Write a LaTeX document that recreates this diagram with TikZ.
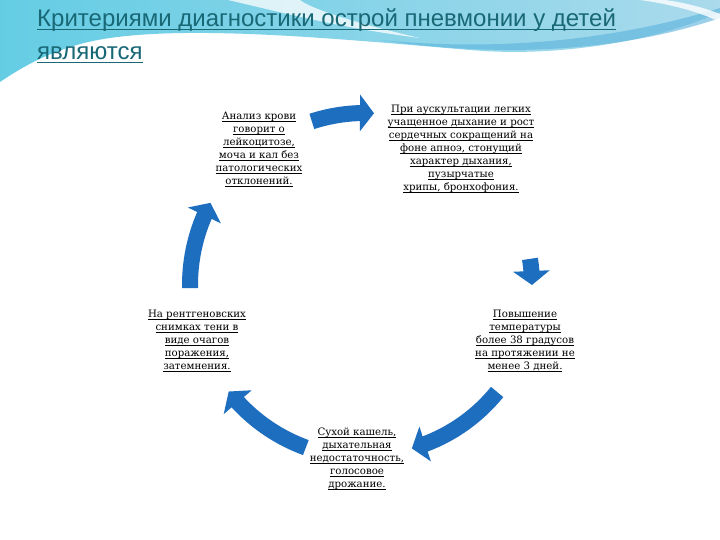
\documentclass[tikz,border=0pt]{standalone}
\usepackage{fontspec}
\setmainfont{DejaVu Serif}
\newfontfamily\headfont{Liberation Sans}
\usepackage{xcolor}
\usetikzlibrary{arrows.meta,bending,calc,positioning}
\definecolor{arrowblue}{RGB}{30,110,192}
\definecolor{headteal}{RGB}{24,104,118}
\definecolor{waveblue}{RGB}{170,218,236}
\definecolor{wavecyan}{RGB}{100,205,228}
\definecolor{waveband}{RGB}{90,178,220}
\newsavebox{\crlbox}
\newcommand{\crl}[1]{\sbox\crlbox{#1}\rlap{\rule[-2.6pt]{\wd\crlbox}{0.9pt}}\usebox\crlbox}
\newcommand{\headline}[1]{\sbox\crlbox{#1}\rlap{\rule[-3.2pt]{\wd\crlbox}{1.3pt}}\usebox\crlbox}

\begin{document}
\begin{tikzpicture}[x=1pt,y=1pt,
    crit/.style={align=center, inner sep=0pt, font=\fontsize{10.2}{13}\selectfont},
    cyc/.style={arrowblue, line width=16pt, -{Triangle[width=36pt,length=14pt]}},
    head/.style={anchor=base west, inner sep=0pt, text=headteal, font=\headfont\fontsize{24}{26}\selectfont}]
    \useasboundingbox (0,0) rectangle (720,540);
    \fill[white] (0,0) rectangle (720,540);

    % Background wave
    \shade[left color=wavecyan, right color=waveblue] (0,540) -- (720,540) -- (720,528)
        .. controls (660,500) and (560,482) .. (470,490)
        .. controls (350,500) and (200,515) .. (110,502)
        .. controls (60,495) and (25,475) .. (0,458) -- cycle;
    \fill[white, opacity=0.75] (228,540) .. controls (280,528) and (340,512) .. (420,502)
        .. controls (350,518) and (310,532) .. (300,540) -- cycle;
    \fill[waveband, opacity=0.6] (380,500) .. controls (480,490) and (600,495) .. (720,532)
        -- (720,522) .. controls (620,488) and (500,482) .. (380,500) -- cycle;
    \fill[white, opacity=0.8] (640,540) .. controls (670,536) and (700,528) .. (720,518)
        -- (720,526) .. controls (700,534) and (680,538) .. (665,540) -- cycle;

    % Title
    \node[head] (title1) at (37,513) {\headline{Критериями диагностики острой пневмонии у детей}};
    \node[head] (title2) at (37,480) {\headline{являются}};

    % Criteria
    \node[crit] (blood) at (259,390.5) {\crl{Анализ крови}\\ \crl{говорит о}\\ \crl{лейкоцитозе,}\\
        \crl{моча и кал без}\\ \crl{патологических}\\ \crl{отклонений.}};
    \node[crit] (ausc) at (461,391) {\crl{При аускультации легких}\\ \crl{учащенное дыхание и рост}\\
        \crl{сердечных сокращений на}\\ \crl{фоне апноэ, стонущий}\\ \crl{характер дыхания,}\\
        \crl{пузырчатые}\\ \crl{хрипы, бронхофония.}};
    \node[crit] (fever) at (525,199) {\crl{Повышение}\\ \crl{температуры}\\ \crl{более 38 градусов}\\
        \crl{на протяжении не}\\ \crl{менее 3 дней.}};
    \node[crit] (cough) at (357,81) {\crl{Сухой кашель,}\\ \crl{дыхательная}\\ \crl{недостаточность,}\\
        \crl{голосовое}\\ \crl{дрожание.}};
    \node[crit] (xray) at (197,199) {\crl{На рентгеновских}\\ \crl{снимках тени в}\\ \crl{виде очагов}\\
        \crl{поражения,}\\ \crl{затемнения.}};

    % Cycle arrows
    \coordinate (c) at (365,255);
    \coordinate (a1) at ($(c)+(108:172)$);
    \coordinate (a2) at ($(c)+(9:167)$);
    \coordinate (a3) at ($(c)+(-39:170)$);
    \coordinate (a4) at ($(c)+(-110:173)$);
    \coordinate (a5) at ($(c)+(181:175)$);
    \draw[cyc] (a1) arc[start angle=108, end angle=87, radius=172pt];
    \draw[cyc] (a2) arc[start angle=9, end angle=0, radius=167pt];
    \draw[cyc] (a3) arc[start angle=-39, end angle=-74, radius=170pt];
    \draw[cyc] (a4) arc[start angle=-110, end angle=-142, radius=173pt];
    \draw[cyc] (a5) arc[start angle=181, end angle=152, radius=175pt];
\end{tikzpicture}
\end{document}
